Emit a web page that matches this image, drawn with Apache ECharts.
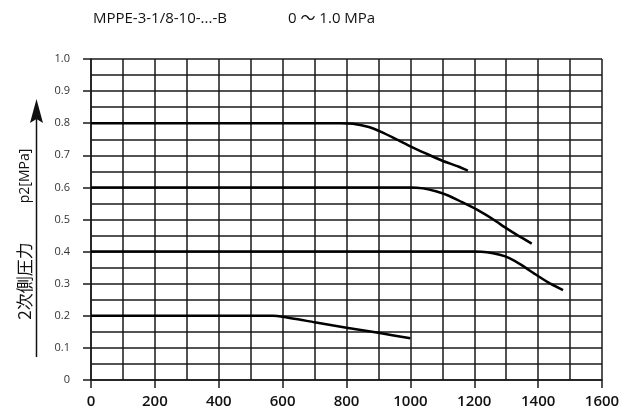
<!DOCTYPE html>
<html>
<head>
<meta charset="utf-8">
<script src="https://cdn.jsdelivr.net/npm/echarts@6/dist/echarts.min.js"></script>
<style>
html,body{margin:0;padding:0;background:#fff;}
#c{width:624px;height:412px;}
</style>
</head>
<body>
<div id="c"></div>
<script>
// Titles
var titleModel = 'MPPE-3-1/8-10-...-B';
var titleRange = '0 ～ 1.0 MPa';
var yAxisCjk = '2次側圧力';
var yAxisLatin = 'p2[MPa]';

// Axis ranges / ticks
var xMin = 0, xMax = 1600, xStep = 200;
var yMin = 0, yMax = 1.0, yStep = 0.1;

// Series: [flow, pressure]
var curve08 = [[0,0.8],[780,0.8],[820,0.798],[870,0.788],[910,0.772],[960,0.748],[1000,0.728],[1050,0.705],[1100,0.683],[1150,0.665],[1180,0.652]];
var curve06 = [[0,0.6],[1000,0.6],[1040,0.597],[1080,0.588],[1120,0.574],[1160,0.555],[1210,0.530],[1260,0.500],[1300,0.473],[1340,0.448],[1380,0.425]];
var curve04 = [[0,0.4],[1200,0.4],[1240,0.398],[1280,0.39],[1310,0.38],[1350,0.357],[1390,0.33],[1430,0.305],[1478,0.28]];
var curve02 = [[0,0.2],[570,0.2],[600,0.197],[700,0.18],[800,0.163],[900,0.147],[1000,0.13]];

var curves = [curve08, curve06, curve04, curve02];

var chart = echarts.init(document.getElementById('c'), null, {renderer:'canvas'});
var gridColor = '#1a1a1a';
var txtFont = 'Open Sans, Noto Sans CJK JP';
var opt = {
  animation:false,
  backgroundColor:'#fff',
  title:[
    {text:titleModel, left:93, top:11, padding:0, textStyle:{fontFamily:txtFont, fontSize:15, fontWeight:'normal', color:'#111'}},
    {text:titleRange, left:288, top:11, padding:0, textStyle:{fontFamily:txtFont, fontSize:15, fontWeight:'normal', color:'#111'}}
  ],
  grid:{left:91, right:22, top:59, bottom:32},
  xAxis:{
    type:'value', min:xMin, max:xMax, interval:xStep,
    axisLine:{show:true, lineStyle:{color:gridColor, width:1.5}},
    axisTick:{show:true, length:8, lineStyle:{color:gridColor, width:1.5}},
    minorTick:{show:false, splitNumber:2},
    splitLine:{show:true, lineStyle:{color:gridColor, width:1.5}},
    minorSplitLine:{show:true, lineStyle:{color:gridColor, width:1.5}},
    axisLabel:{margin:14, fontFamily:'Open Sans', fontSize:15, fontWeight:600, color:'#111',
      formatter:function(v){ return String(Math.round(v)); }}
  },
  yAxis:{
    type:'value', min:yMin, max:yMax, interval:yStep,
    axisLine:{show:true, lineStyle:{color:gridColor, width:1.5}},
    axisTick:{show:true, length:8, lineStyle:{color:gridColor, width:1.5}},
    minorTick:{show:false, splitNumber:2},
    splitLine:{show:true, lineStyle:{color:gridColor, width:1.5}},
    minorSplitLine:{show:true, lineStyle:{color:gridColor, width:1.5}},
    axisLabel:{margin:21, fontFamily:'Open Sans', fontSize:11, color:'#333',
      formatter:function(v){ return Math.abs(v) < 1e-9 ? '0' : v.toFixed(1); }}
  },
  graphic:[
    {type:'text', x:25, y:281, rotation:Math.PI/2,
      style:{text:yAxisCjk, font:'17px "Noto Sans CJK JP"', fill:'#111', align:'center', verticalAlign:'middle'}},
    {type:'text', x:25, y:176, rotation:Math.PI/2,
      style:{text:yAxisLatin, font:'14px "Open Sans"', fill:'#111', align:'center', verticalAlign:'middle'}},
    {type:'line', shape:{x1:36.5, y1:357, x2:36.5, y2:118}, style:{stroke:'#111', lineWidth:1.5}},
    {type:'polygon', shape:{points:[[36.5,99],[30,123],[36.5,119],[43,123]]}, style:{fill:'#111'}}
  ],
  series: curves.map(function(d){
    return {type:'line', data:d, symbol:'none', smooth:0.2,
      lineStyle:{color:'#000', width:2.5}, z:3};
  })
};
chart.setOption(opt);
</script>
</body>
</html>
